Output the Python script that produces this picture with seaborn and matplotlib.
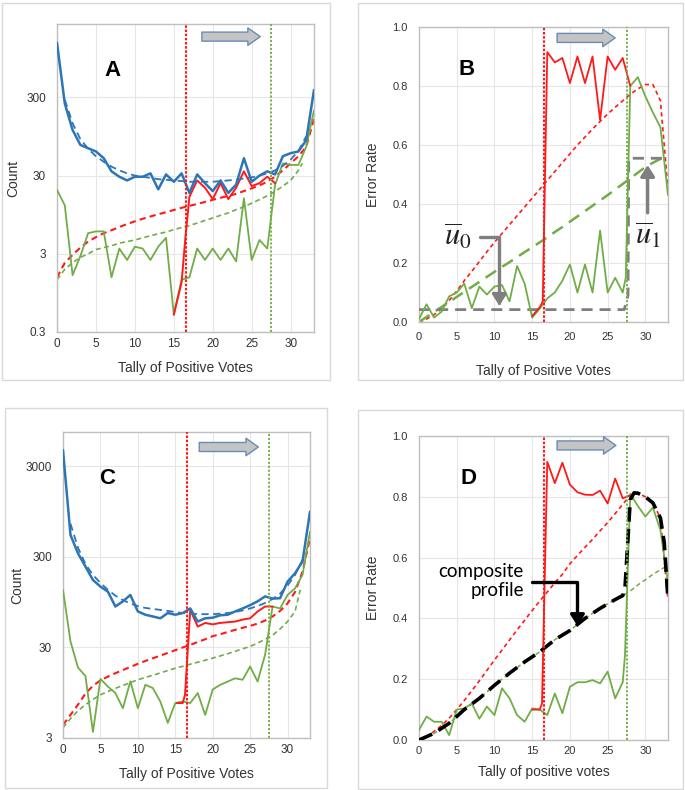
import numpy as np
import pandas as pd
import matplotlib
matplotlib.use('Agg')
import matplotlib.pyplot as plt
from matplotlib.patches import Rectangle
import seaborn as sns

# ---- data ----
tally = list(range(34))

# panel A (counts, log scale)
blue_a = [1500, 250, 115, 74, 67, 61, 50, 34, 29, 26, 29, 29, 32, 20, 31, 25, 32, 18,
          31, 24, 19, 26, 18, 23, 50, 25, 30, 34, 31, 53, 58, 61, 85, 373]
blue_fit_a_x = list(range(1, 33))
blue_fit_a = [280, 140, 88, 66, 53, 45, 39, 35, 32, 30, 29, 28, 27, 26.5, 26, 25.5, 25,
              25, 25, 25, 25.5, 26, 26.5, 27.5, 28.5, 30, 32, 35, 40, 48, 62, 95]
red_a_x = [15, 16, 16.5, 17, 18, 19, 20, 21, 22, 23, 24, 25, 26, 27, 28]
red_a = [0.5, 1.3, 5, 16, 26, 21, 15, 24, 15, 21, 34, 22, 24, 29, 24]
red_fit_a = [1.5, 2.3, 2.9, 3.6, 4.3, 4.9, 5.5, 6.0, 6.6, 7.2, 7.8, 8.4, 9.0, 9.6, 10.2,
             10.9, 11.6, 12.3, 13.0, 13.8, 14.7, 15.6, 16.5, 17.5, 19.0, 20.6, 22.5, 25.0,
             29, 35, 43, 53, 70, 160]
green_a = [19.7, 12.5, 1.6, 2.8, 5.5, 5.8, 5.8, 1.5, 3.5, 2.5, 3.7, 3.5, 2.5, 3.7, 4.8,
           0.5, 1.4, 1.5, 3.5, 2.5, 3.5, 2.5, 3.5, 2.4, 15.4, 2.5, 4.5, 3.5, 22.8, 43, 41,
           41, 70, 205]
green_fit_a_x = list(range(0, 32)) + [31.5]
green_fit_a = [1.4, 1.9, 2.3, 2.7, 3.0, 3.4, 3.6, 3.8, 4.1, 4.3, 4.5, 4.8, 5.1, 5.4, 5.7,
               6.1, 6.5, 6.9, 7.4, 8.0, 8.6, 9.3, 10.0, 11.0, 12.0, 13.3, 14.8, 16.5, 18.8,
               22, 26, 35, 43]

# panel B (error rate)
red_b_x = [15, 16, 16.4, 17, 18, 19, 20, 21, 22, 23, 24, 25, 26, 27, 28]
red_b = [0.02, 0.05, 0.07, 0.915, 0.88, 0.895, 0.81, 0.90, 0.81, 0.90, 0.685, 0.90,
         0.855, 0.895, 0.80]
red_fit_b = [0.0, 0.01, 0.025, 0.045, 0.073, 0.105, 0.14, 0.172, 0.205, 0.238, 0.27, 0.30,
             0.33, 0.36, 0.39, 0.42, 0.45, 0.48, 0.51, 0.54, 0.57, 0.60, 0.627, 0.654, 0.68,
             0.705, 0.728, 0.75, 0.772, 0.79, 0.805, 0.805, 0.75, 0.45]
green_b_x = list(range(0, 28)) + [27.4] + list(range(28, 34))
green_b = [0.01, 0.06, 0.015, 0.035, 0.087, 0.10, 0.13, 0.047, 0.12, 0.093, 0.12, 0.125,
           0.07, 0.19, 0.13, 0.015, 0.045, 0.08, 0.10, 0.14, 0.195, 0.10, 0.195, 0.10, 0.31,
           0.10, 0.15, 0.10, 0.15, 0.80, 0.83, 0.765, 0.71, 0.66, 0.43]
green_fit_b = [0.0, 0.017, 0.034, 0.051, 0.068, 0.085, 0.102, 0.119, 0.136, 0.153, 0.17,
               0.187, 0.203, 0.22, 0.237, 0.253, 0.27, 0.287, 0.305, 0.322, 0.34, 0.358,
               0.376, 0.394, 0.412, 0.43, 0.449, 0.468, 0.487, 0.506, 0.525, 0.54, 0.553,
               0.565]
step_b_x = [0, 27.2, 27.7, 27.8, 32.9]
step_b = [0.042, 0.042, 0.09, 0.555, 0.555]

# panel C (counts, log scale)
blue_c = [4540, 525, 329, 235, 167, 141, 124, 85, 97, 114, 75, 69, 66, 63, 72, 69, 72, 81,
          58, 63, 64, 68, 69, 75, 81, 88, 97, 110, 104, 105, 160, 198, 267, 950]
blue_fit_c_x = list(range(1, 33))
blue_fit_c = [700, 380, 250, 190, 155, 130, 112, 100, 92, 86, 82, 80, 78, 76, 74, 72, 71,
              70, 70, 70, 71, 72, 74, 77, 81, 86, 93, 103, 118, 145, 190, 280]
red_c_x = [15.2, 16, 16.3, 17, 18, 19, 20, 21, 22, 23, 24, 25, 26, 27, 28]
red_c = [7.3, 7.3, 9, 78, 51, 56, 54, 56, 57, 58, 61, 63, 75, 85, 85]
red_fit_c = [4.2, 5.4, 7.0, 9.3, 11.3, 13.0, 14.3, 15.6, 16.9, 18.3, 19.8, 21.3, 22.8, 24.4,
             26.1, 28, 30, 32, 34.5, 37, 40, 42, 44.5, 47, 49.5, 52, 55, 59.5, 66, 76, 92,
             123, 206, 480]
green_c = [130, 35, 18, 14.5, 3.5, 13.5, 11.1, 9.4, 6.4, 12.7, 6.4, 11.6, 10.7, 7.6, 4.4,
           7.3, 7.6, 7.3, 9.4, 5.4, 10.3, 11.6, 12.6, 13.7, 13.2, 18.5, 12.6, 24.9, 85, 81,
           114, 135, 190, 570]
green_fit_c_x = list(range(0, 32)) + [31.7]
green_fit_c = [3.9, 4.9, 6.0, 7.0, 8.0, 9.0, 9.8, 10.6, 11.4, 12.3, 13.2, 14.0, 14.8, 15.7,
               16.7, 17.7, 18.6, 19.6, 20.6, 21.7, 22.9, 24.2, 25.6, 27.2, 29, 30.8, 33.5,
               37, 41, 48, 58, 75, 130]

# panel D (error rate)
red_d_x = [15, 16, 16.3, 17, 18, 19, 20, 21, 22, 23, 24, 25, 26, 27, 28]
red_d = [0.10, 0.10, 0.12, 0.915, 0.845, 0.912, 0.84, 0.815, 0.807, 0.806, 0.82, 0.778,
         0.86, 0.795, 0.805]
red_fit_d = [0.0, 0.012, 0.028, 0.048, 0.072, 0.10, 0.13, 0.162, 0.195, 0.229, 0.263,
             0.296, 0.329, 0.362, 0.394, 0.426, 0.457, 0.487, 0.517, 0.545, 0.58, 0.607,
             0.634, 0.66, 0.688, 0.715, 0.745, 0.775, 0.805, 0.812, 0.80, 0.78, 0.73, 0.46]
green_d_x = list(range(0, 28)) + [27.3] + list(range(28, 34))
green_d = [0.033, 0.077, 0.06, 0.06, 0.016, 0.10, 0.104, 0.12, 0.07, 0.11, 0.082, 0.17,
           0.137, 0.082, 0.06, 0.104, 0.10, 0.082, 0.153, 0.088, 0.175, 0.19, 0.19, 0.197,
           0.186, 0.225, 0.137, 0.19, 0.28, 0.81, 0.77, 0.735, 0.765, 0.69, 0.52]
green_fit_d = [0.0, 0.01, 0.022, 0.037, 0.055, 0.077, 0.1, 0.118, 0.137, 0.158, 0.18, 0.2,
               0.22, 0.238, 0.257, 0.273, 0.29, 0.31, 0.33, 0.345, 0.36, 0.38, 0.40, 0.417,
               0.433, 0.448, 0.462, 0.475, 0.49, 0.51, 0.527, 0.545, 0.56, 0.575]
comp_d_x = [0, 2, 4, 6, 8, 10, 12, 14, 16, 18, 20, 22, 24, 26, 27, 27.3, 28, 28.5, 29, 30,
            31, 32, 32.5, 33]
comp_d = [0.0, 0.022, 0.055, 0.10, 0.137, 0.18, 0.22, 0.257, 0.29, 0.33, 0.36, 0.40,
          0.433, 0.462, 0.475, 0.50, 0.79, 0.813, 0.812, 0.80, 0.78, 0.73, 0.65, 0.46]

red_cut = 16.5
green_cut = 27.5

# ---- styling ----
sns.set_theme(style='white')
plt.rcParams['font.family'] = ['Liberation Sans', 'DejaVu Sans']

BLUE = '#2e75b6'
RED = '#ff1a1a'
GREEN = '#70ad47'
GRAY = '#7f7f7f'
TXT = '#333333'

fig = plt.figure(figsize=(6.85, 7.9), dpi=100)

# light panel frames
for (x0, y0, x1, y1) in [(2, 3, 330, 380), (358, 3, 683, 380),
                         (5, 408, 327, 788), (358, 410, 683, 789)]:
    fig.add_artist(Rectangle((x0 / 685, 1 - y1 / 790), (x1 - x0) / 685, (y1 - y0) / 790,
                             transform=fig.transFigure, fill=False,
                             edgecolor='#d9d9d9', linewidth=1))


def px_axes(l, t, r, b):
    return fig.add_axes([l / 685, 1 - b / 790, (r - l) / 685, (b - t) / 790])


axA = px_axes(57, 24, 314, 332)
axB = px_axes(419, 27, 668, 322)
axC = px_axes(63, 432, 310, 738)
axD = px_axes(419, 436, 668, 740)


def line(ax, x, y, color, lw, ls='-', z=3):
    sns.lineplot(x=x, y=y, ax=ax, color=color, linewidth=lw, linestyle=ls,
                 estimator=None, sort=False, legend=False, zorder=z)


def base(ax, tick_size):
    ax.set_xlim(0, 33)
    ax.set_xticks([0, 5, 10, 15, 20, 25, 30])
    ax.grid(True, color='#e6e6e6', linewidth=0.8)
    ax.set_axisbelow(True)
    for s in ax.spines.values():
        s.set_color('#bfbfbf')
        s.set_linewidth(1)
    ax.tick_params(length=0, labelsize=tick_size, colors=TXT)
    ax.axvline(red_cut, color=RED, linestyle=(0, (1.2, 0.8)), linewidth=1.5, zorder=6)
    ax.axvline(green_cut, color=GREEN, linestyle=(0, (1.2, 1.0)), linewidth=1.3, zorder=6)


def block_arrow(ax, x0, x1, yfrac):
    ax.annotate('', xy=(x1, yfrac), xytext=(x0, yfrac),
                xycoords=('data', 'axes fraction'), textcoords=('data', 'axes fraction'),
                arrowprops=dict(arrowstyle='simple,head_length=0.85,head_width=1.2,tail_width=0.62',
                                mutation_scale=10.5, fc='#c4c4c4', ec='#6a8cb3', lw=1,
                                shrinkA=0, shrinkB=0), zorder=7)


# ---- panel A ----
base(axA, 8.5)
axA.set_yscale('log')
line(axA, green_fit_a_x, green_fit_a, GREEN, 1.2, (0, (3, 2)), 2)
line(axA, tally, red_fit_a, RED, 1.5, (0, (3, 2)), 2)
line(axA, tally, green_a, GREEN, 1.3)
line(axA, red_a_x, red_a, RED, 1.4, '-', 4)
line(axA, blue_fit_a_x, blue_fit_a, BLUE, 1.3, (0, (4, 2.5)), 4)
line(axA, tally, blue_a, BLUE, 1.8, '-', 5)
axA.set_ylim(0.3, 2600)
axA.set_yticks([0.3, 3, 30, 300])
axA.set_yticklabels(['0.3', '3', '30', '300'])
axA.yaxis.set_minor_locator(matplotlib.ticker.NullLocator())
axA.tick_params(axis='y', pad=8)
axA.tick_params(axis='x', pad=4)
axA.set_xlabel('Tally of Positive Votes', fontsize=10, color=TXT, labelpad=8)
axA.set_ylabel('Count', fontsize=10, color=TXT, labelpad=4)
axA.text(0.215, 0.85, 'A', transform=axA.transAxes, fontsize=16, fontweight='bold',
         ha='center', va='center', color='black')
block_arrow(axA, 18.6, 26.1, 0.959)

# ---- panel B ----
base(axB, 8)
line(axB, tally, red_fit_b, RED, 1.2, (0, (2.5, 2)), 2)
line(axB, tally, green_fit_b, GREEN, 1.8, (0, (5, 3)), 2)
line(axB, step_b_x, step_b, GRAY, 2.0, (0, (4, 2.5)), 3)
line(axB, green_b_x, green_b, GREEN, 1.3)
line(axB, red_b_x, red_b, RED, 1.3, '-', 4)
axB.set_ylim(0, 1.0)
axB.set_yticks([0, 0.2, 0.4, 0.6, 0.8, 1.0])
axB.set_yticklabels(['0.0', '0.2', '0.4', '0.6', '0.8', '1.0'])
axB.tick_params(axis='y', pad=8)
axB.tick_params(axis='x', pad=7)
axB.set_xlabel('Tally of Positive Votes', fontsize=10, color=TXT, labelpad=16)
axB.set_ylabel('Error Rate', fontsize=10, color=TXT, labelpad=9)
axB.text(0.19, 0.855, 'B', transform=axB.transAxes, fontsize=16, fontweight='bold',
         ha='center', va='center', color='black')
block_arrow(axB, 18.3, 26.0, 0.963)
axB.text(5.2, 0.29, r'$\overline{u}_0$', fontsize=22, math_fontfamily='stix',
         ha='center', va='center', color='#222222')
axB.annotate('', xy=(10.65, 0.055), xytext=(8.1, 0.288),
             arrowprops=dict(arrowstyle='-|>,head_length=0.55,head_width=0.35', color=GRAY,
                             lw=2.4, connectionstyle='angle,angleA=0,angleB=90,rad=0',
                             shrinkA=0, shrinkB=0))
axB.text(30.4, 0.295, r'$\overline{u}_1$', fontsize=22, math_fontfamily='stix',
         ha='center', va='center', color='#222222')
axB.annotate('', xy=(30.3, 0.532), xytext=(30.3, 0.37),
             arrowprops=dict(arrowstyle='-|>,head_length=0.55,head_width=0.35', color=GRAY,
                             lw=2.4, shrinkA=0, shrinkB=0))

# ---- panel C ----
base(axC, 8.5)
axC.set_yscale('log')
line(axC, green_fit_c_x, green_fit_c, GREEN, 1.2, (0, (3, 2)), 2)
line(axC, tally, red_fit_c, RED, 1.5, (0, (3, 2)), 2)
line(axC, tally, green_c, GREEN, 1.3)
line(axC, red_c_x, red_c, RED, 1.4, '-', 4)
line(axC, blue_fit_c_x, blue_fit_c, BLUE, 1.3, (0, (4, 2.5)), 4)
line(axC, tally, blue_c, BLUE, 1.8, '-', 5)
axC.set_ylim(3, 7200)
axC.set_yticks([3, 30, 300, 3000])
axC.set_yticklabels(['3', '30', '300', '3000'])
axC.yaxis.set_minor_locator(matplotlib.ticker.NullLocator())
axC.tick_params(axis='y', pad=8)
axC.tick_params(axis='x', pad=4)
axC.set_xlabel('Tally of Positive Votes', fontsize=10, color=TXT, labelpad=8)
axC.set_ylabel('Count', fontsize=10, color=TXT, labelpad=1)
axC.text(0.18, 0.848, 'C', transform=axC.transAxes, fontsize=16, fontweight='bold',
         ha='center', va='center', color='black')
block_arrow(axC, 18.2, 26.1, 0.951)

# ---- panel D ----
base(axD, 8)
line(axD, tally, red_fit_d, RED, 1.2, (0, (2.5, 2)), 2)
line(axD, tally, green_fit_d, GREEN, 1.1, (0, (3, 2)), 2)
line(axD, green_d_x, green_d, GREEN, 1.3)
line(axD, red_d_x, red_d, RED, 1.3, '-', 4)
line(axD, comp_d_x, comp_d, 'black', 2.6, (0, (4, 2)), 5)
axD.set_ylim(0, 1.0)
axD.set_yticks([0, 0.2, 0.4, 0.6, 0.8, 1.0])
axD.set_yticklabels(['0.0', '0.2', '0.4', '0.6', '0.8', '1.0'])
axD.tick_params(axis='y', pad=8)
axD.tick_params(axis='x', pad=4)
axD.set_xlabel('Tally of positive votes', fontsize=10, color=TXT, labelpad=7)
axD.set_ylabel('Error Rate', fontsize=10, color=TXT, labelpad=9)
axD.text(0.198, 0.86, 'D', transform=axD.transAxes, fontsize=16, fontweight='bold',
         ha='center', va='center', color='black')
block_arrow(axD, 18.3, 26.1, 0.969)
axD.text(13.9, 0.524, 'composite\nprofile', fontsize=13.5, family=['Lato', 'DejaVu Sans'],
         ha='right', va='center', multialignment='right', linespacing=1.15, color='black',
         zorder=8)
axD.annotate('', xy=(21.0, 0.375), xytext=(15.0, 0.52),
             arrowprops=dict(arrowstyle='-|>,head_length=0.55,head_width=0.35', color='black',
                             lw=2.4, connectionstyle='angle,angleA=0,angleB=90,rad=0',
                             shrinkA=0, shrinkB=0), zorder=8)

fig.savefig('out.png', dpi=100)
